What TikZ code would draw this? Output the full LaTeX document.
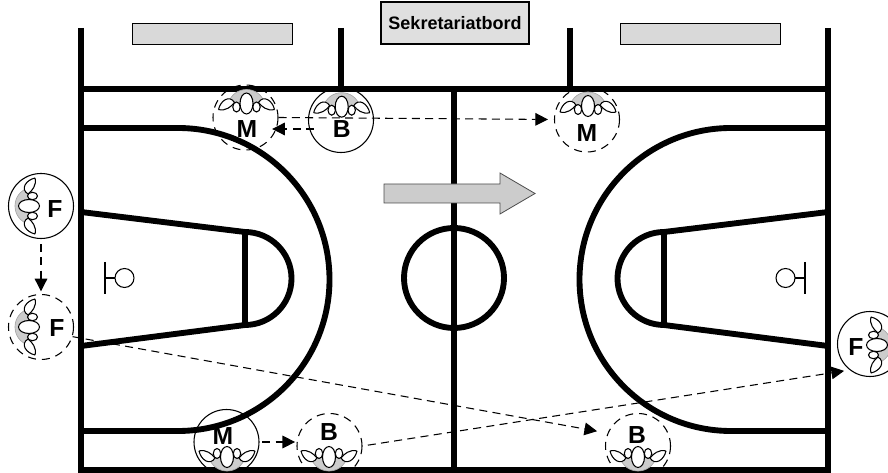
\documentclass[tikz,border=0pt]{standalone}
\usepackage{fontspec}
\setmainfont{Liberation Sans}
\usetikzlibrary{arrows.meta}
\tikzset{
  court/.style={line width=4.4pt,line join=round},
  bench/.style={draw=black,line width=.6pt,fill=gray!30},
  psolid/.style={circle,draw=black,line width=.8pt,minimum size=48.75pt,inner sep=0pt},
  pdashed/.style={psolid,dash pattern=on 6pt off 4.5pt},
  letter/.style={font=\fontsize{18.5}{18.5}\selectfont\bfseries,inner sep=0pt},
  pass/.style={line width=.8pt,dash pattern=on 6pt off 4pt,-{Triangle[length=9.5pt,width=9.5pt]}},
  hoop/.style={line width=.8pt},
  figtop/.pic={
    \draw[line width=.5pt,draw=gray!70,fill=gray!40] (-18,0) .. controls (-16,-9) and (-8,-14) .. (0,-14)
      .. controls (8,-14) and (16,-9) .. (18,0) -- (0,3) -- cycle;
    \draw[line width=.8pt,fill=white] (-28,6) .. controls (-26,-3) and (-17,-9) .. (-12,-1)
      .. controls (-15,3) and (-21,8) .. (-28,6);
    \draw[line width=.8pt,fill=white] (28,6) .. controls (26,-3) and (17,-9) .. (12,-1)
      .. controls (15,3) and (21,8) .. (28,6);
    \draw[line width=.8pt,fill=white] (-10,3.5) ellipse [x radius=3.7,y radius=5];
    \draw[line width=.8pt,fill=white] (10,3.5) ellipse [x radius=3.7,y radius=5];
    \draw[line width=.8pt,fill=white] (0,0) ellipse [x radius=6.5,y radius=10.5];
  }
}
\begin{document}
\begin{tikzpicture}[x=.75pt,y=-.75pt]
  \clip (0,0) rectangle (888,473);
  % court
  \draw[court] (81,28) -- (81,473);
  \draw[court] (828,28) -- (828,473);
  \draw[court] (81,89) -- (828,89);
  \draw[court] (81,470) -- (828,470);
  \draw[court] (454,89) -- (454,470);
  \draw[court] (341,28) -- (341,89);
  \draw[court] (570,28) -- (570,89);
  \draw[court] (454,278) circle [radius=50];
  \draw[court] (81,128) -- (178,128) arc [start angle=-90,end angle=90,radius=151.5] -- (81,431);
  \draw[court] (828,128) -- (731,128) arc [start angle=-90,end angle=-270,radius=151.5] -- (828,431);
  \draw[court] (81,212) -- (245,232) -- (245,325) -- (81,346);
  \draw[court] (828,212) -- (664,232) -- (664,325) -- (828,346);
  \draw[court] (245,232) arc [start angle=-90,end angle=90,radius=46.5];
  \draw[court] (664,232) arc [start angle=-90,end angle=-270,radius=46.5];
  % hoops
  \draw[hoop] (105,262) -- (105,294) (105,278) -- (115,278);
  \draw[hoop] (124.5,278) circle [radius=9.5];
  \draw[hoop] (805,262) -- (805,294) (805,278) -- (795,278);
  \draw[hoop] (785.5,278) circle [radius=9.5];
  % table
  \node[bench,minimum width=120pt,minimum height=15.75pt,inner sep=0pt] (b_l) at (212,33.5) {};
  \node[bench,minimum width=120pt,minimum height=15.75pt,inner sep=0pt] (b_r) at (700,33.5) {};
  \node[bench,line width=.8pt,fill=gray!25,minimum width=111pt,minimum height=31.5pt,inner sep=0pt,
        font=\fontsize{13.5}{15}\selectfont\bfseries] (sek) at (455,23) {Sekretariatbord};
  % direction
  \draw[line width=.6pt,draw=black!70,fill=gray!40] (384,184) -- (500,184) -- (500,173) -- (535,193.5)
    -- (500,214) -- (500,203) -- (384,203) -- cycle;
  % players
  \node[pdashed] (m1) at (245.5,117.5) {};
  \node[psolid]  (b1) at (341,120) {};
  \node[pdashed] (m2) at (587,119.5) {};
  \node[psolid]  (f1) at (41,206) {};
  \node[pdashed] (f2) at (41,327) {};
  \node[psolid]  (f3) at (870,344) {};
  \node[psolid]  (m3) at (226.5,442) {};
  \node[pdashed] (b2) at (329.5,446) {};
  \node[pdashed] (b3) at (638,446) {};
  \pic at (246.5,103.5) {figtop};
  \pic at (341.7,106.7) {figtop};
  \pic at (588,106) {figtop};
  \pic[rotate=90] at (29,206) {figtop};
  \pic[rotate=90] at (29,327) {figtop};
  \pic[rotate=-90] at (877,345) {figtop};
  \pic[rotate=180] at (227,457) {figtop};
  \pic[rotate=180] at (329,457) {figtop};
  \pic[rotate=180] at (638,457) {figtop};
  \node[letter] (m1t) at (247,129) {M};
  \node[letter] (b1t) at (341.7,129) {B};
  \node[letter] (m2t) at (587,132.7) {M};
  \node[letter] (f1t) at (55,209) {F};
  \node[letter] (f2t) at (57,328) {F};
  \node[letter] (f3t) at (856,347) {F};
  \node[letter] (m3t) at (223,436) {M};
  \node[letter] (b2t) at (329,432) {B};
  \node[letter] (b3t) at (637,435) {B};
  % moves
  \draw[pass,shorten >=4.5pt] (m1.east) -- (m2.west);
  \draw[pass,shorten <=14pt,shorten >=11pt] (b1t.west) -- (b1t.west -| m1t.east);
  \draw[pass,shorten <=3.75pt,shorten >=2pt] (f1.south) -- (f2.north);
  \draw[pass,shorten >=8pt] (f2.-17) -- (b3.157);
  \draw[pass,shorten <=2pt,shorten >=1pt] (m3.east) -- (m3.east -| b2.west);
  \draw[pass,shorten <=4pt,shorten >=4.25pt] (b2.east) -- (f3.232);
\end{tikzpicture}
\end{document}
